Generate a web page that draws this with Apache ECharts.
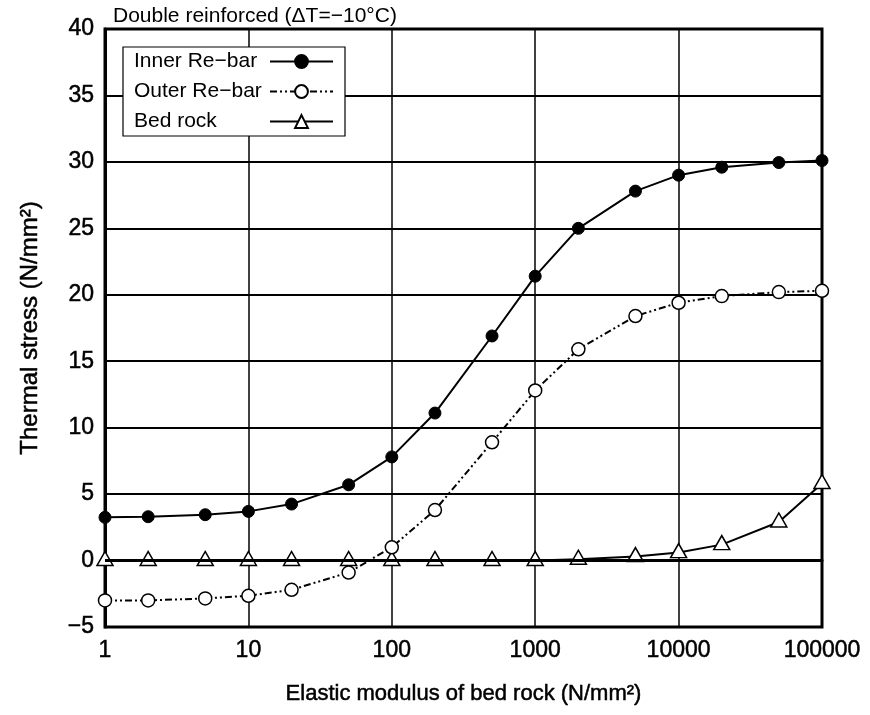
<!DOCTYPE html>
<html><head><meta charset="utf-8">
<script src="https://cdn.jsdelivr.net/npm/echarts@6/dist/echarts.min.js"></script>
<style>html,body{margin:0;padding:0;background:#fff}#c{width:870px;height:715px}</style>
</head><body><div id="c"></div>
<script>
const xValues = [1, 2, 5, 10, 20, 50, 100, 200, 500, 1000, 2000, 5000, 10000, 20000, 50000, 100000];
const innerRebar = [3.25, 3.3, 3.45, 3.7, 4.25, 5.7, 7.8, 11.1, 16.9, 21.4, 25.0, 27.8, 29.0, 29.6, 29.95, 30.1];
const outerRebar = [-3.0, -3.0, -2.85, -2.65, -2.2, -0.9, 1.0, 3.8, 8.9, 12.8, 15.9, 18.4, 19.4, 19.9, 20.2, 20.3];
const bedRock = [0, 0, 0, 0, 0, 0, 0, 0, 0, 0, 0.1, 0.3, 0.6, 1.2, 2.9, 5.8];
const seriesNames = ['Inner Re\u2212bar', 'Outer Re\u2212bar', 'Bed rock'];
const titleText = 'Double reinforced (\u0394T=\u221210\u00b0C)';
const xName = 'Elastic modulus of bed rock (N/mm\u00b2)';
const yName = 'Thermal stress (N/mm\u00b2)';

const pair = arr => xValues.map((x, i) => [x, arr[i]]);
const font = 'Liberation Sans, Arial, sans-serif';
const heavy = { textBorderColor: '#000', textBorderWidth: 0.5 };
const chart = echarts.init(document.getElementById('c'));
chart.setOption({
  animation: false,
  backgroundColor: '#fff',
  title: { text: titleText, left: 108, top: 1, textStyle: { fontFamily: font, fontSize: 21, fontWeight: 'normal', color: '#000' } },
  grid: { left: 105, right: 48, top: 29, bottom: 88, show: true, borderColor: '#000', borderWidth: 3, backgroundColor: 'transparent' },
  legend: {
    orient: 'vertical', left: 123, top: 47, align: 'right',
    backgroundColor: '#fff', borderColor: '#000', borderWidth: 1.2, borderRadius: 0,
    padding: [4, 11, 4, 11], itemGap: 9, itemWidth: 63, itemHeight: 16,
    formatter: n => '{t|' + n + '}',
    textStyle: { fontFamily: font, fontSize: 21, color: '#000', lineHeight: 21,
      rich: { t: { fontFamily: font, fontSize: 21, color: '#000', width: 131, align: 'left', lineHeight: 21 } } },
    data: seriesNames
  },
  xAxis: {
    type: 'log', logBase: 10, min: 1, max: 100000,
    name: xName, nameLocation: 'middle', nameGap: 56,
    nameTextStyle: Object.assign({ fontFamily: font, fontSize: 22, color: '#000' }, heavy),
    axisLine: { show: true, lineStyle: { color: '#000', width: 3 } },
    axisTick: { show: false }, minorTick: { show: false },
    axisLabel: Object.assign({ fontFamily: font, fontSize: 23, color: '#000', margin: 12, formatter: v => String(Math.round(v)) }, heavy),
    splitLine: { show: true, lineStyle: { color: '#000', width: 1.5 } }
  },
  yAxis: {
    type: 'value', min: -5, max: 40, interval: 5,
    name: yName, nameLocation: 'middle', nameGap: 63,
    nameTextStyle: Object.assign({ fontFamily: font, fontSize: 24, color: '#000' }, heavy),
    axisLine: { show: true, lineStyle: { color: '#000', width: 3 } },
    axisTick: { show: false },
    axisLabel: Object.assign({ fontFamily: font, fontSize: 23, color: '#000', margin: 11, formatter: v => String(v).replace('-', '\u2212') }, heavy),
    splitLine: { show: true, lineStyle: { color: '#000', width: 2 } }
  },
  series: [
    { name: seriesNames[0], type: 'line', data: pair(innerRebar), symbol: 'circle', symbolSize: 12,
      itemStyle: { color: '#000', borderColor: '#000', borderWidth: 1 }, lineStyle: { color: '#000', width: 2 },
      markLine: { silent: true, symbol: 'none', label: { show: false }, lineStyle: { color: '#000', width: 3, type: 'solid' }, data: [{ yAxis: 0 }] },
      z: 3 },
    { name: seriesNames[1], type: 'line', data: pair(outerRebar), symbol: 'circle', symbolSize: 13,
      itemStyle: { color: '#fff', borderColor: '#000', borderWidth: 1.5 }, lineStyle: { color: '#000', width: 2, type: [7, 3, 2, 3, 2, 3] },
      z: 4 },
    { name: seriesNames[2], type: 'line', data: pair(bedRock), symbol: 'triangle', symbolSize: [16, 14], symbolOffset: [0, -2],
      itemStyle: { color: '#fff', borderColor: '#000', borderWidth: 1.5 }, lineStyle: { color: '#000', width: 2 },
      z: 2 }
  ]
});
</script></body></html>
